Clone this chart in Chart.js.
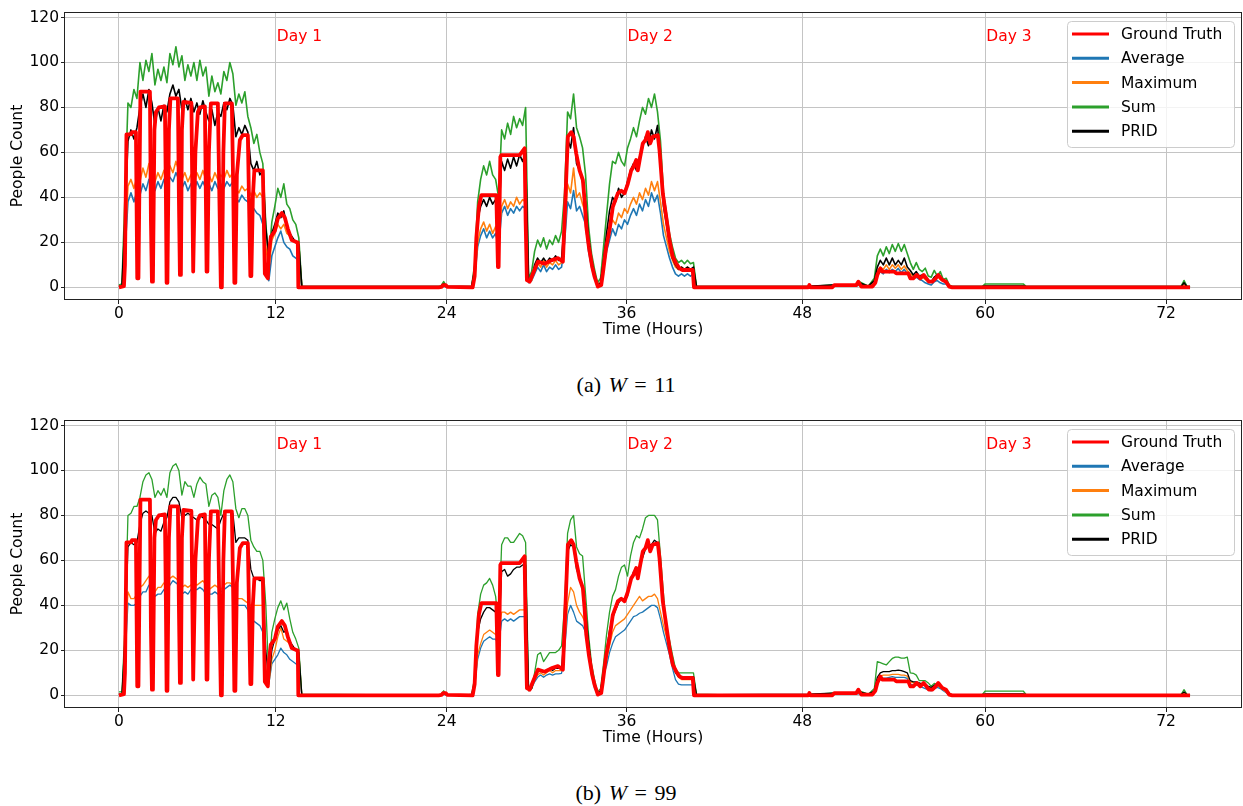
<!DOCTYPE html>
<html>
<head>
<meta charset="utf-8">
<title>People count estimates</title>
<script src="https://cdn.jsdelivr.net/npm/chart.js@4.4.1/dist/chart.umd.min.js"></script>
<style>
  body { margin: 0; background: #fff; }
  .panel { position: absolute; left: 0; width: 1243px; height: 345px; }
  .caption { position: absolute; left: 476px; width: 300px; text-align: center; word-spacing: 2px;
             font-family: "Liberation Serif", serif; font-size: 22px; color: #000; }
</style>
</head>
<body>
<div class="panel" style="top:0"><canvas id="chartA" width="1243" height="345"></canvas></div>
<div class="caption" style="top:372px">(a) <i>W</i>&nbsp;=&nbsp;11</div>
<div class="panel" style="top:408px"><canvas id="chartB" width="1243" height="345"></canvas></div>
<div class="caption" style="top:780px">(b) <i>W</i>&nbsp;=&nbsp;99</div>
<script>
// x axis is the sample index; tick labels are the hours at those samples
const tickIdx = [0, 157, 328, 508, 684, 867, 1048];
const tickLabels = ['0', '12', '24', '36', '48', '60', '72'];
const yTicks = [0, 20, 40, 60, 80, 100, 120];

const seriesNames = ['Ground Truth', 'Average', 'Maximum', 'Sum', 'PRID'];
const seriesColors = ['#ff0000', '#1f77b4', '#ff7f0e', '#2ca02c', '#000000'];

const dayNames = ['Day 1', 'Day 2', 'Day 3'];
const dayIdx = [157, 508, 867];
const dayLabelY = 109.5;

function span(a, b, step) {
    const out = [];
    for (let v = a; v <= b; v += step) out.push(v);
    return out;
}

// sample positions shared by the estimated series
const sampleIdx = [...span(0, 183, 3), 250, 322, 325, 328, 347,
    ...span(350, 578, 3), 600, 690, 714, 738, 741, 750,
    ...span(756, 834, 3), 864, 867, 905, 908, 1000, 1063, 1066, 1069, 1072];

// ground truth (same in both panels)
const gtIdx = [0,5,6,7.5,12,13,17,18.3,19.5,21.5, 31,32,33,34,35.5,37,40,46,47,47.7,
    48.5,50,51.5,59,60,61,62,63,64.5,72.5, 73.5,74.3,75,76.5,79,81,86,87,87.7,88.5,
    90,92,99,100.5,102,103,104.5,106,113,114.5, 115.5,116.5,118,121,124,129,130.5,131.5,132.5,134,
    135.5,144,145,146,149,150,152,156,159,163, 166,169,173,178,179,179.5,
    250,320,323,324.5,327,328.5,354,
    356,357.7,360.3,362.7,377.7,379.3,380,381.7,382.7,401, 406,407,408.3,411,414.3,419.3,426,432.7,439.3,444.3,
    446,449.3,452.7,455,457.7,461,464.3,466,467.7,470.3, 473.7,476,479.3,482.7,484.3,487.7,491,494.3,499.3,502.7,
    506,509.3,512.7,515,517.7,519.3,521.7,524.3,527,529.3, 531.7,534.3,539.3,541,544.3,547.7,551,554.3,557.7,561,
    564,574.3,575.5,
    690,691,692,714,716,738,740,743,754,757, 759,762,764,767.5,776,778,790,792,795,798.5,
    802,805.4,810.6,814,817.5,820,824,827.8,831,834, 1072];
const gtVals = [0,0.5,10,68,68,69,69,4,4,87, 87,30,2.5,2.5,70,78,80,80.5,40,2,
    2,70,84,84,40,5.5,5.5,70,82.5,82, 40,7,7,60,78,80,80.5,40,7,7,
    60,81.8,81.8,40,0,0,60,81.8,81.8,40, 2,2,50,65.5,67.7,67.7,30,5,5,40,
    52,52,30,6,4,15,22.5,25,30.6,33, 31,26,21,20,20,0,
    0,0,0.2,1,1,0.2,0,
    5,22,36,41,41,9,9,58,58.8,58.8, 61.8,30,3.2,2.5,6,11.4,10.5,12,13,11.4,
    30,67,69,67,59.5,52,47.7,38.8,27,18, 9,4.7,0.3,1,6,18,25.5,35.8,41.8,43,
    41.8,46,52,53.6,56.6,52,58,64,65.5,69, 64,67,67.6,61,41.8,31.4,21,13.6,10.6,8.4,
    7.7,7.7,0,
    0,1,0,0,1,1,2.5,0.3,0.3,2, 5.5,8.4,7,7,7,6.2,6.2,4,4,5.5,
    4,5.5,2.5,2.5,4,5.5,3.3,2.5,0.3,0, 0];

// panel (a): W = 11
const avgA = [
    0.3,0.3,15,38,42,38,43,41,46,43, 48,45,43,47,44,48,45,49,47,51, 48,44,47,43,46,43,47,44,47,44,
    46,43,47,44,46,44,47,45,47,40, 38,41,39,38,36,35,33,32,28,6, 3,14,18,22,25,20,18,17,14,13, 12,0.2,
    0.2,0.2,0.5,0.2,0.2,
    0.2,0.2,4,18,23,26,22,25,22,24, 18,33,36,32,35,33,36,34,36,35, 2,3,6,9,7,10,7,9,8,10,
    8,9,20,38,35,43,34,36,32,28, 16,9,4,0.5,1,8,16,21,26,23, 28,26,30,28,32,35,32,37,34,39,
    36,42,38,41,33,23,18,13,9,6, 5,6,5,6,5,6,0.2,
    0.2,0.2,0.6,0.6,1,0.2,
    1.5,5.5,7,6,8,6.5,8,7,8.4,6.5, 8,6,5,4,4.5,3.5,3,2,1.5,1, 2.5,3,2,1.5,1.5,0.2,0.2,
    0.2,0.3,0.3,0.2,0.2,0.2,0.6,0.2,0.2];
const maxA = [
    0.3,0.5,20,45,48,44,49,47,53,49, 55,50,47,51,48,52,49,54,51,56, 52,48,51,47,50,47,51,48,52,48,
    50,47,51,48,50,48,52,49,51,44, 42,45,43,44,41,43,40,42,40,18, 8,21,24,28,26,28,24,23,21,20, 19,0.3,
    0.2,0.2,0.8,0.2,0.2,
    0.2,0.3,5,20,26,29,25,28,24,27, 22,36,39,35,38,36,40,37,39,38, 3,3,8,11,9,12,9,11,10,12,
    10,11,25,46,42,53,40,42,37,33, 20,11,5,1,2,10,20,26,30,28, 33,31,35,33,37,40,37,42,39,44,
    41,47,43,47,38,28,22,16,12,9, 8,9,8,9,8,8,0.2,
    0.2,0.2,0.8,0.8,1.5,0.3,
    2,7,9,8,10,8,10,8.5,10,8, 9.5,7.5,6,5,5.5,4.5,4.5,3.5,2.5,2.5, 4,5,3.5,3,2,0.3,0.2,
    0.2,0.4,0.4,0.2,0.2,0.2,1,0.2,0.2];
const sumA = [
    1,1.5,40,82,80,88,84,100,92,101, 96,104,90,97,92,98,91,104,99,107, 98,103,92,99,94,100,92,101,94,98,
    85,94,87,91,86,96,92,100,95,81, 86,82,87,76,71,64,68,60,55,28, 12,29,36,44,40,46,37,35,30,28, 22,0.5,
    0.3,0.3,2.5,0.3,0.3,
    0.3,0.5,10,38,48,54,50,56,50,48, 40,70,66,73,68,76,71,75,72,80, 4,7,16,21,18,22,17,21,19,23,
    20,25,42,78,75,86,71,67,62,50, 27,15,8,2,4,18,32,46,56,55, 60,56,54,62,66,71,67,74,80,77,
    84,80,86,78,65,42,33,24,18,13, 11,12,10.5,12,10.5,11,0.5,
    0.3,0.3,1,1,2.5,0.5,
    4,14,17,14,18,15,19,16,19.5,16, 19,15,11,8,11,8,7,8.5,5,4.5, 7.5,5,7,3.5,4,1,0.3,
    0.3,1.5,1.5,0.3,0.3,0.3,3,0.3,0.3];
const pridA = [
    0.5,0.5,30,65,70,66,71,80,86,80, 88,82,72,80,74,81,78,86,90,85, 88,79,84,79,84,78,82,77,83,78,
    74,79,72,78,76,82,79,84,81,67, 71,68,72,69,55,52,56,50,52,26, 14,24,28,33,31,34,27,24,22,20, 19,0.5,
    0.3,0.3,1.5,0.3,0.3,
    0.3,0.5,8,30,36,39,36,40,37,39, 30,56,52,57,53,58,54,59,56,60, 3,4,10,13,11,13,11,13,12,14,
    12,13,30,66,62,71,55,52,47,38, 22,12,6,1,2,12,24,34,40,38, 44,40,42,47,52,55,52,58,62,67,
    63,70,66,72,55,36,28,20,13,10, 8,9,8,9,8,9,0.3,
    0.3,0.5,1,1,2,0.5,
    3,9,12,10,13,10,13,10,12,10, 13,9,7.5,5.5,7,5,5.5,4,3,2.5, 4.5,5.5,4,3,2.5,0.5,0.3,
    0.3,0.6,0.6,0.3,0.3,0.3,2,0.3,0.3];

// panel (b): W = 99
const avgB = [
    0.3,0.3,15,41,40,40,41,44,46,46, 49,46,44,45,45,47,48,49,51,50, 49,45,46,45,47,47,47,48,47,45,
    45,45,46,45,46,47,48,49,48,40, 40,40,40,38,34,33,32,31,28,10, 5,14,16,18,21,19,18,16,15,14, 13,0.2,
    0.2,0.2,0.4,0.2,0.2,
    0.2,0.2,4,16,21,24,25,26,25,25, 22,33,34,33,34,33,34,35,35,35, 2,3,6,8,9,8,9,9.5,9,9.5,
    9.5,9.8,20,36,40,37,33,32,31,28, 18,9,3,0.5,1.5,9,13,19,23,26, 27,28,29,31,33,35,35.5,36.5,37,38,
    39,40,40,39,34,28,23,18,12,7, 5,4.6,4.6,4.6,4.6,4.6,0.2,
    0.2,0.2,0.6,0.6,0.8,0.2,
    1,5.5,7,7.6,7.6,8,8.3,8,8,8, 8,7.5,5,4.6,4.6,4.2,3.5,3,2.5,2, 3,3.5,3,2,1.2,0.2,0.2,
    0.2,0.3,0.3,0.2,0.2,0.2,0.5,0.2,0.2];
const maxB = [
    0.3,0.3,20,46,43,43,45,48,49,51, 53,49,46,48,48,50,50,52,53,52, 51,48,49,48,49,50,49,50,51,49,
    47,48,49,48,47,49,50,50,49,43, 43,43,42,41,40,40,40,40,40,12, 5,16,20,26,30,25,24,23,22,20, 19,0.2,
    0.2,0.2,0.6,0.2,0.2,
    0.2,0.2,4,18,23,27,28,29,28,27, 26,37,37,36,37,36,37,38,38,38, 2,3,7,9,10,9,10,11,10,11,
    11,11,22,41,48,46,40,37,35,32, 22,11,4,1,2,10,16,22,28,31, 32,33,34,36,38,40,42,44,42,43,
    44,44,45,43,37,31,26,21,16,11, 8,7,7,7,7,7,0.2,
    0.2,0.2,0.8,0.8,1.2,0.3,
    1.5,6.5,8.5,9,9,9,9.3,9.3,9.3,9, 9,8.5,6,5.5,5.5,5,4.5,4.5,3.5,3, 4,4.5,3.5,2.5,1.5,0.3,0.2,
    0.2,0.4,0.4,0.2,0.2,0.2,0.8,0.2,0.2];
const sumB = [
    1.5,1.5,30,80,81,84,84,88,95,98, 99,96,88,91,89,92,88,99,102,103, 100,89,95,93,93,88,94,97,95,94,
    84,89,90,88,80,91,96,98,95,83, 79,83,83,80,69,66,64,64,60,40, 8,28,34,39,42,38,41,34,28,25, 21,0.5,
    0.3,0.3,2,0.3,0.3,
    0.3,0.5,8,36,45,49,50,52,49,44, 30,67,70,70,68,68,70,72,71,68, 2.5,3,10,18,19,15,17,19,19,19,
    20,22,40,72,78,80,66,63,62,45, 27,14,7,1.5,3,14,27,37,44,47, 53,57,58,53,62,68,71,70,74,79,
    80,80,80,78,62,45,29,24.6,18,12, 10,10,10,10,10,10,0.5,
    0.3,0.3,1,1,2,0.5,
    3,15,14.5,14,13.5,15,16.4,17,17,16.5, 16.5,17,10,9.8,9,6.5,6.5,6.5,5.5,4, 5.3,5,3.5,3,2,0.5,0.3,
    0.3,1.9,1.9,0.3,0.3,0.3,2.5,0.3,0.3];
const pridB = [
    0.5,0.5,25,66,68,67,68,76,81,82, 81,80,72,74,73,77,79,86,88,88, 86,79,80,81,80,79,78,80,79,78,
    76,76,75,74,78,81,82,82,81,68, 70,70,70,69,56,52,52,51,51,20, 6,20,25,29,31,28,29,24,22,20, 19,0.3,
    0.3,0.3,1,0.3,0.3,
    0.3,0.3,6,28,34,37,39,39,38,37, 25,55,56,53,54,56,57,57,58,58, 2.5,3,8,11,11,11,11,12,11,12,
    12,12,30,64,67,66,56,52,48,37, 24,12,5,1,2,11,20,29,34,38, 41,43,42,44,51,55,56,57,61,65,
    67,67,69,68,55,39,30,22,15,10, 8.3,8.3,8.3,8.3,8.3,8.3,0.3,
    0.3,0.5,1,1,1.5,0.5,
    2,8,10,10.5,10.5,10.5,11,11,11.2,11, 10.5,10,6.5,6,6,5.5,5,5,4,3.5, 4.5,5,4,3,2,0.5,0.3,
    0.3,0.6,0.6,0.3,0.3,0.3,1.5,0.3,0.3];

// make sure every series lines up with the sample positions
[avgA, maxA, sumA, pridA, avgB, maxB, sumB, pridB].forEach((arr, i) => {
    if (arr.length !== sampleIdx.length) {
        throw new Error('series ' + i + ' has ' + arr.length + ' values, expected ' + sampleIdx.length);
    }
});
if (gtIdx.length !== gtVals.length) throw new Error('ground truth length mismatch');

Chart.defaults.font.family = '"DejaVu Sans", sans-serif';
Chart.defaults.font.size = 15.5;
Chart.defaults.color = '#000';

// frame, day labels and the legend box drawn over the data
const panelDecor = {
    id: 'panelDecor',
    afterDatasetsDraw(chart) {
        const { ctx, chartArea: a, scales } = chart;
        ctx.save();
        ctx.strokeStyle = '#222';
        ctx.lineWidth = 1;
        ctx.strokeRect(a.left - 0.5, a.top - 0.5, a.right - a.left + 1, a.bottom - a.top + 1);

        ctx.font = '15.5px "DejaVu Sans"';
        ctx.fillStyle = '#ff0000';
        ctx.textAlign = 'left';
        ctx.textBaseline = 'alphabetic';
        dayNames.forEach((name, i) => {
            ctx.fillText(name, scales.x.getPixelForValue(dayIdx[i]) + 1, scales.y.getPixelForValue(dayLabelY));
        });

        const w = 167, h = 126;
        const bx = a.right - 7 - w, by = a.top + 8;
        ctx.beginPath();
        ctx.roundRect(bx + 0.5, by + 0.5, w, h, 4);
        ctx.fillStyle = 'rgba(255,255,255,0.8)';
        ctx.fill();
        ctx.strokeStyle = '#cccccc';
        ctx.stroke();
        ctx.textBaseline = 'middle';
        seriesNames.forEach((name, i) => {
            const ly = by + 13 + i * 24.3;
            ctx.beginPath();
            ctx.moveTo(bx + 5, ly);
            ctx.lineTo(bx + 42, ly);
            ctx.strokeStyle = seriesColors[i];
            ctx.lineWidth = 3;
            ctx.stroke();
            ctx.fillStyle = '#000';
            ctx.fillText(name, bx + 54, ly + 1);
        });
        ctx.restore();
    }
};

function lineSet(label, xs, ys, color, width, order) {
    return {
        label,
        data: xs.map((x, i) => ({ x, y: ys[i] })),
        borderColor: color,
        borderWidth: width,
        borderJoinStyle: 'round',
        pointRadius: 0,
        fill: false,
        tension: 0,
        order
    };
}

function makePanel(id, avg, max, sum, prid, lw) {
    const ctx = document.getElementById(id).getContext('2d');
    return new Chart(ctx, {
        type: 'line',
        data: {
            datasets: [
                lineSet(seriesNames[0], gtIdx, gtVals, seriesColors[0], 3.8, 0),
                lineSet(seriesNames[1], sampleIdx, avg, seriesColors[1], lw, 4),
                lineSet(seriesNames[2], sampleIdx, max, seriesColors[2], lw, 3),
                lineSet(seriesNames[3], sampleIdx, sum, seriesColors[3], lw, 2),
                lineSet(seriesNames[4], sampleIdx, prid, seriesColors[4], lw, 1)
            ]
        },
        options: {
            responsive: false,
            devicePixelRatio: 1,
            animation: false,
            events: [],
            layout: { padding: { top: 13, right: 2, left: 0, bottom: 0 } },
            plugins: { legend: { display: false }, tooltip: { enabled: false } },
            scales: {
                x: {
                    type: 'linear',
                    min: -54,
                    max: 1123,
                    afterBuildTicks: s => { s.ticks = tickIdx.map(v => ({ value: v })); },
                    afterFit: s => {
                        s.height = 46;
                        s.paddingLeft = 0; s.paddingRight = 0;
                    },
                    border: { display: false },
                    grid: { color: '#c4c4c4', lineWidth: 1, tickLength: 5, tickColor: '#222' },
                    ticks: {
                        autoSkip: false,
                        maxRotation: 0,
                        padding: 1,
                        callback: (v, i) => tickLabels[i]
                    },
                    title: { display: true, text: 'Time (Hours)', padding: { top: 0, bottom: 6 } }
                },
                y: {
                    min: -5.2,
                    max: 122,
                    afterBuildTicks: s => { s.ticks = yTicks.map(v => ({ value: v })); },
                    afterFit: s => {
                        s.width = 65;
                        s.paddingTop = 0; s.paddingBottom = 0;
                    },
                    border: { display: false },
                    grid: { color: '#c4c4c4', lineWidth: 1, tickLength: 4, tickColor: '#222' },
                    ticks: { padding: 2 },
                    title: { display: true, text: 'People Count', padding: { top: 9, bottom: 0 } }
                }
            }
        },
        plugins: [panelDecor]
    });
}

makePanel('chartA', avgA, maxA, sumA, pridA, 1.6);
makePanel('chartB', avgB, maxB, sumB, pridB, 1.3);
</script>
</body>
</html>
